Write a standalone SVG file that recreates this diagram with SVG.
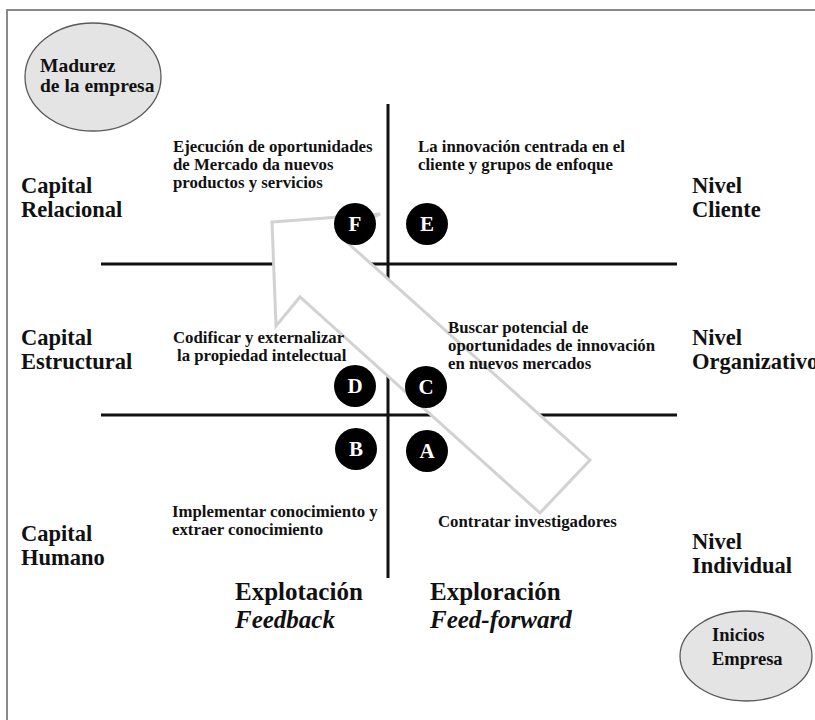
<svg xmlns="http://www.w3.org/2000/svg" width="815" height="720" viewBox="0 0 815 720">
  <style>
    text { font-family: "Liberation Serif", "Times New Roman", serif; font-weight: bold; fill: #111; }
    .axis { font-size: 22.5px; }
    .desc { font-size: 16.8px; }
    .phase { font-size: 25px; }
    .it { font-style: italic; }
    .stage { font-size: 19.5px; }
    .stage-sm { font-size: 18.5px; }
    .grid { stroke: #111; stroke-width: 3; fill: none; }
    .frame { stroke: #8a8a8a; stroke-width: 2; fill: none; }
    .bubble { fill: #e4e4e4; stroke: #5a5a5a; stroke-width: 1.3; }
    .dot { fill: #000; }
    .dot-label { fill: #fff; font-size: 21px; text-anchor: middle; }
    .flow { fill: #fff; stroke: #d2d2d2; stroke-width: 3; stroke-linejoin: miter; }
  </style>

  <rect width="815" height="720" fill="#fff"/>

  <!-- outer frame (top and left edges) -->
  <path class="frame" d="M7,720 V10 H815"/>

  <!-- quadrant grid -->
  <g id="connectors">
    <line class="grid" x1="388" y1="104" x2="388" y2="578"/>
    <line class="grid" x1="101" y1="264" x2="677" y2="264"/>
    <line class="grid" x1="101" y1="415" x2="677" y2="415"/>
    <!-- block arrow: growth path from start-up to maturity -->
    <polygon id="growth-arrow" class="flow" points="272,222 380,214 340,236 590,460 540,513 300,297 276,326"/>
  </g>

  <!-- stage ellipses -->
  <g id="madurez">
    <ellipse class="bubble" cx="93" cy="77" rx="68" ry="54"/>
    <text class="stage" x="40" y="72">Madurez</text>
    <text class="stage" x="40" y="92">de la empresa</text>
  </g>
  <g id="inicios">
    <ellipse class="bubble" cx="746" cy="656" rx="66" ry="45"/>
    <text class="stage-sm" x="712" y="641">Inicios</text>
    <text class="stage-sm" x="712" y="665">Empresa</text>
  </g>

  <!-- row labels (left) -->
  <g id="capital-relacional">
    <text class="axis" x="21" y="193">Capital</text>
    <text class="axis" x="21" y="217">Relacional</text>
  </g>
  <g id="capital-estructural">
    <text class="axis" x="21" y="345">Capital</text>
    <text class="axis" x="21" y="369">Estructural</text>
  </g>
  <g id="capital-humano">
    <text class="axis" x="21" y="541">Capital</text>
    <text class="axis" x="21" y="565">Humano</text>
  </g>

  <!-- row labels (right) -->
  <g id="nivel-cliente">
    <text class="axis" x="692" y="193">Nivel</text>
    <text class="axis" x="692" y="217">Cliente</text>
  </g>
  <g id="nivel-organizativo">
    <text class="axis" x="692" y="345">Nivel</text>
    <text class="axis" x="692" y="369">Organizativo</text>
  </g>
  <g id="nivel-individual">
    <text class="axis" x="692" y="549">Nivel</text>
    <text class="axis" x="692" y="573">Individual</text>
  </g>

  <!-- quadrant descriptions -->
  <g id="desc-f">
    <text class="desc" x="173" y="152">Ejecución de oportunidades</text>
    <text class="desc" x="173" y="170">de Mercado da nuevos</text>
    <text class="desc" x="173" y="188">productos y servicios</text>
  </g>
  <g id="desc-e">
    <text class="desc" x="418" y="152">La innovación centrada en el</text>
    <text class="desc" x="418" y="170">cliente y grupos de enfoque</text>
  </g>
  <g id="desc-d">
    <text class="desc" x="173" y="343">Codificar y externalizar</text>
    <text class="desc" x="177" y="361">la propiedad intelectual</text>
  </g>
  <g id="desc-c">
    <text class="desc" x="448" y="333">Buscar potencial de</text>
    <text class="desc" x="448" y="351">oportunidades de innovación</text>
    <text class="desc" x="448" y="369">en nuevos mercados</text>
  </g>
  <g id="desc-b">
    <text class="desc" x="172" y="517">Implementar conocimiento y</text>
    <text class="desc" x="172" y="535">extraer conocimiento</text>
  </g>
  <g id="desc-a">
    <text class="desc" x="438" y="527">Contratar investigadores</text>
  </g>

  <!-- lettered markers -->
  <g id="node-f"><circle class="dot" cx="355" cy="224" r="21"/><text class="dot-label" x="355" y="231">F</text></g>
  <g id="node-e"><circle class="dot" cx="427" cy="224" r="21"/><text class="dot-label" x="427" y="231">E</text></g>
  <g id="node-d"><circle class="dot" cx="355" cy="386" r="21"/><text class="dot-label" x="355" y="393">D</text></g>
  <g id="node-c"><circle class="dot" cx="426" cy="387" r="21"/><text class="dot-label" x="426" y="394">C</text></g>
  <g id="node-b"><circle class="dot" cx="356" cy="449" r="21"/><text class="dot-label" x="356" y="456">B</text></g>
  <g id="node-a"><circle class="dot" cx="427" cy="451" r="21"/><text class="dot-label" x="427" y="458">A</text></g>

  <!-- column labels -->
  <g id="explotacion">
    <text class="phase" x="235" y="600">Explotación</text>
    <text class="phase it" x="235" y="628">Feedback</text>
  </g>
  <g id="exploracion">
    <text class="phase" x="430" y="600">Exploración</text>
    <text class="phase it" x="430" y="628">Feed-forward</text>
  </g>
</svg>
